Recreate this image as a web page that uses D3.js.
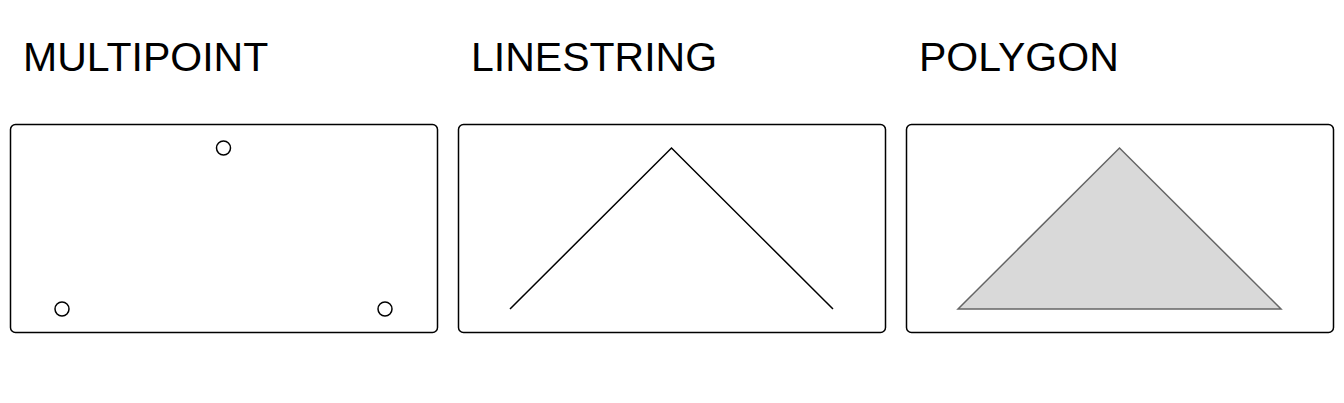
<!DOCTYPE html>
<html><head><meta charset="utf-8">
<script src="https://cdn.jsdelivr.net/npm/d3@7"></script>
<style>body{margin:0;background:#fff}</style>
</head><body><div id="run"></div>
<script>
var titles = ["MULTIPOINT", "LINESTRING", "POLYGON"];
var coords = [[0, 0], [1, 1], [2, 0]];

var width = 1344, height = 403;
var panelW = 428, panelH = 209, gap = 20, panelLeft = 10, panelTop = 124;

var svg = d3.select("#run").append("svg")
    .attr("width", width)
    .attr("height", height);

var x = d3.scaleLinear().domain([0, 2]).range([52, panelW - 53]);
var y = d3.scaleLinear().domain([0, 1]).range([panelH - 24, 24]);

var g = svg.selectAll("g.panel").data(titles).enter().append("g")
    .attr("class", "panel")
    .attr("transform", function(d, i) { return "translate(" + (panelLeft + i * (panelW + gap)) + ",0)"; });

g.append("text")
    .attr("x", 13)
    .attr("y", 71)
    .style("font-family", "Liberation Sans, Arial, sans-serif")
    .style("font-size", "41px")
    .text(function(d) { return d; });

var box = g.append("g").attr("transform", "translate(0," + panelTop + ")");

box.append("rect")
    .attr("x", 0.5).attr("y", 0.5)
    .attr("width", panelW - 1).attr("height", panelH - 1)
    .attr("rx", 5)
    .attr("fill", "none")
    .attr("stroke", "#000")
    .attr("stroke-width", 1.5);

var line = d3.line().x(function(d) { return x(d[0]); }).y(function(d) { return y(d[1]); });

box.filter(function(d, i) { return i == 0; }).selectAll("circle")
    .data(coords).enter().append("circle")
    .attr("cx", function(d) { return x(d[0]); })
    .attr("cy", function(d) { return y(d[1]); })
    .attr("r", 7)
    .attr("fill", "none")
    .attr("stroke", "#000")
    .attr("stroke-width", 1.5);

box.filter(function(d, i) { return i == 1; }).append("path")
    .attr("d", line(coords))
    .attr("fill", "none")
    .attr("stroke", "#000")
    .attr("stroke-width", 1.5);

box.filter(function(d, i) { return i == 2; }).append("path")
    .attr("d", line(coords) + "Z")
    .attr("fill", "#d9d9d9")
    .attr("stroke", "#666")
    .attr("stroke-width", 1.5);
</script></body></html>
